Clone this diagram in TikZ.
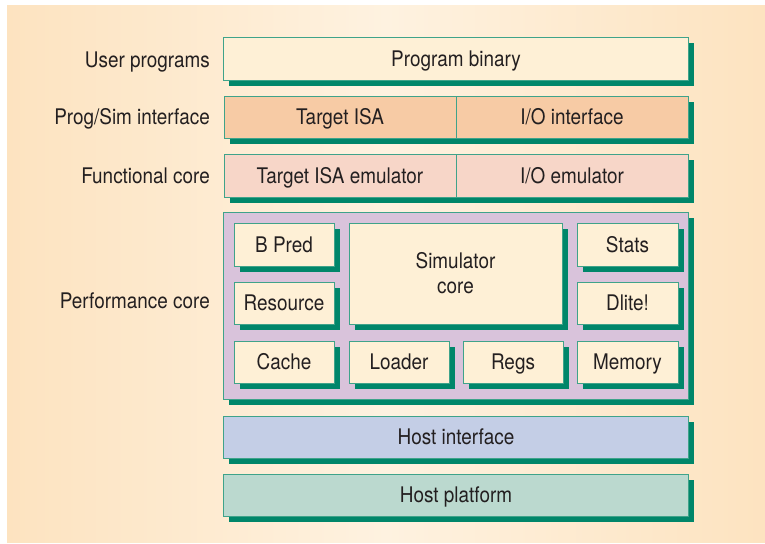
\documentclass[tikz,border=0pt]{standalone}
\usepackage{fontspec}
\setmainfont{TeX Gyre Heros}[FakeStretch=0.88]
\usetikzlibrary{shadows}
\definecolor{bgedge}{HTML}{FDE3C0}
\definecolor{bgmid}{HTML}{FEF2E0}
\definecolor{frame}{HTML}{3FA38A}
\definecolor{shgreen}{HTML}{00866A}
\definecolor{cream}{HTML}{FEF0D6}
\definecolor{peach}{HTML}{F7CBA5}
\definecolor{pinkish}{HTML}{F7D6C8}
\definecolor{lavender}{HTML}{D9C3DB}
\definecolor{lightblue}{HTML}{C4CEE6}
\definecolor{lightteal}{HTML}{BBD9CF}
\definecolor{txt}{HTML}{231F20}
\tikzset{
  box/.style={draw=frame, line width=1pt, inner sep=0pt, outer sep=0pt, text=txt,
    font=\fontsize{21.5}{25}\selectfont, align=center, text height=15.4pt, text depth=0pt,
    drop shadow={shadow xshift=5.5pt, shadow yshift=-5.5pt, fill=shgreen, opacity=1}},
  lbl/.style={anchor=east, inner sep=0pt, text=txt, text height=15.4pt, text depth=0pt,
    font=\fontsize{21.5}{25}\selectfont}
}
\begin{document}
\begin{tikzpicture}[x=1pt,y=-1pt]
\useasboundingbox (0,0) rectangle (765,543);
\fill[white] (0,0) rectangle (765,543);
\shade[left color=bgedge, right color=bgmid] (7,6) rectangle (386.5,542);
\shade[left color=bgmid, right color=bgedge] (386,6) rectangle (765,542);
% layer labels
\node[lbl] (l1) at (210,59.5) {User programs};
\node[lbl] (l2) at (210,117) {Prog/Sim interface};
\node[lbl] (l3) at (210,176) {Functional core};
\node[lbl] (l4) at (210,301) {Performance core};
% rows
\node[box, fill=cream, minimum width=465pt, minimum height=43pt] (pb) at (456,59) {Program binary};
\node[box, fill=peach, minimum width=232pt, minimum height=42pt] (isa) at (340,117) {Target ISA};
\node[box, fill=peach, minimum width=232pt, minimum height=42pt] (ioi) at (572,117) {I/O interface};
\node[box, fill=pinkish, minimum width=232pt, minimum height=43pt] (isaem) at (340,175.5) {Target ISA emulator};
\node[box, fill=pinkish, minimum width=232pt, minimum height=43pt] (ioem) at (572,175.5) {I/O emulator};
\node[box, fill=lavender, minimum width=465pt, minimum height=187pt] (perf) at (456,305.5) {};
\node[box, fill=cream, minimum width=100pt, minimum height=43pt] (bpred) at (284,244.5) {B Pred};
\node[box, fill=cream, minimum width=100pt, minimum height=42pt] (res) at (284,303) {Resource};
\node[box, fill=cream, minimum width=100pt, minimum height=42pt] (cache) at (284,362) {Cache};
\node[box, fill=cream, minimum width=213pt, minimum height=101pt, text height=, text depth=] (sim) at (455.5,273.5) {Simulator\\[0pt]core};
\node[box, fill=cream, minimum width=100pt, minimum height=42pt] (loader) at (399,362) {Loader};
\node[box, fill=cream, minimum width=100pt, minimum height=42pt] (regs) at (513,362) {Regs};
\node[box, fill=cream, minimum width=101pt, minimum height=43pt] (stats) at (627.5,244.5) {Stats};
\node[box, fill=cream, minimum width=101pt, minimum height=42pt] (dlite) at (627.5,303) {Dlite!};
\node[box, fill=cream, minimum width=101pt, minimum height=42pt] (mem) at (627.5,362) {Memory};
\node[box, fill=lightblue, minimum width=465pt, minimum height=42pt] (hi) at (456,437) {Host interface};
\node[box, fill=lightteal, minimum width=465pt, minimum height=42pt] (hp) at (456,495) {Host platform};
\end{tikzpicture}
\end{document}
